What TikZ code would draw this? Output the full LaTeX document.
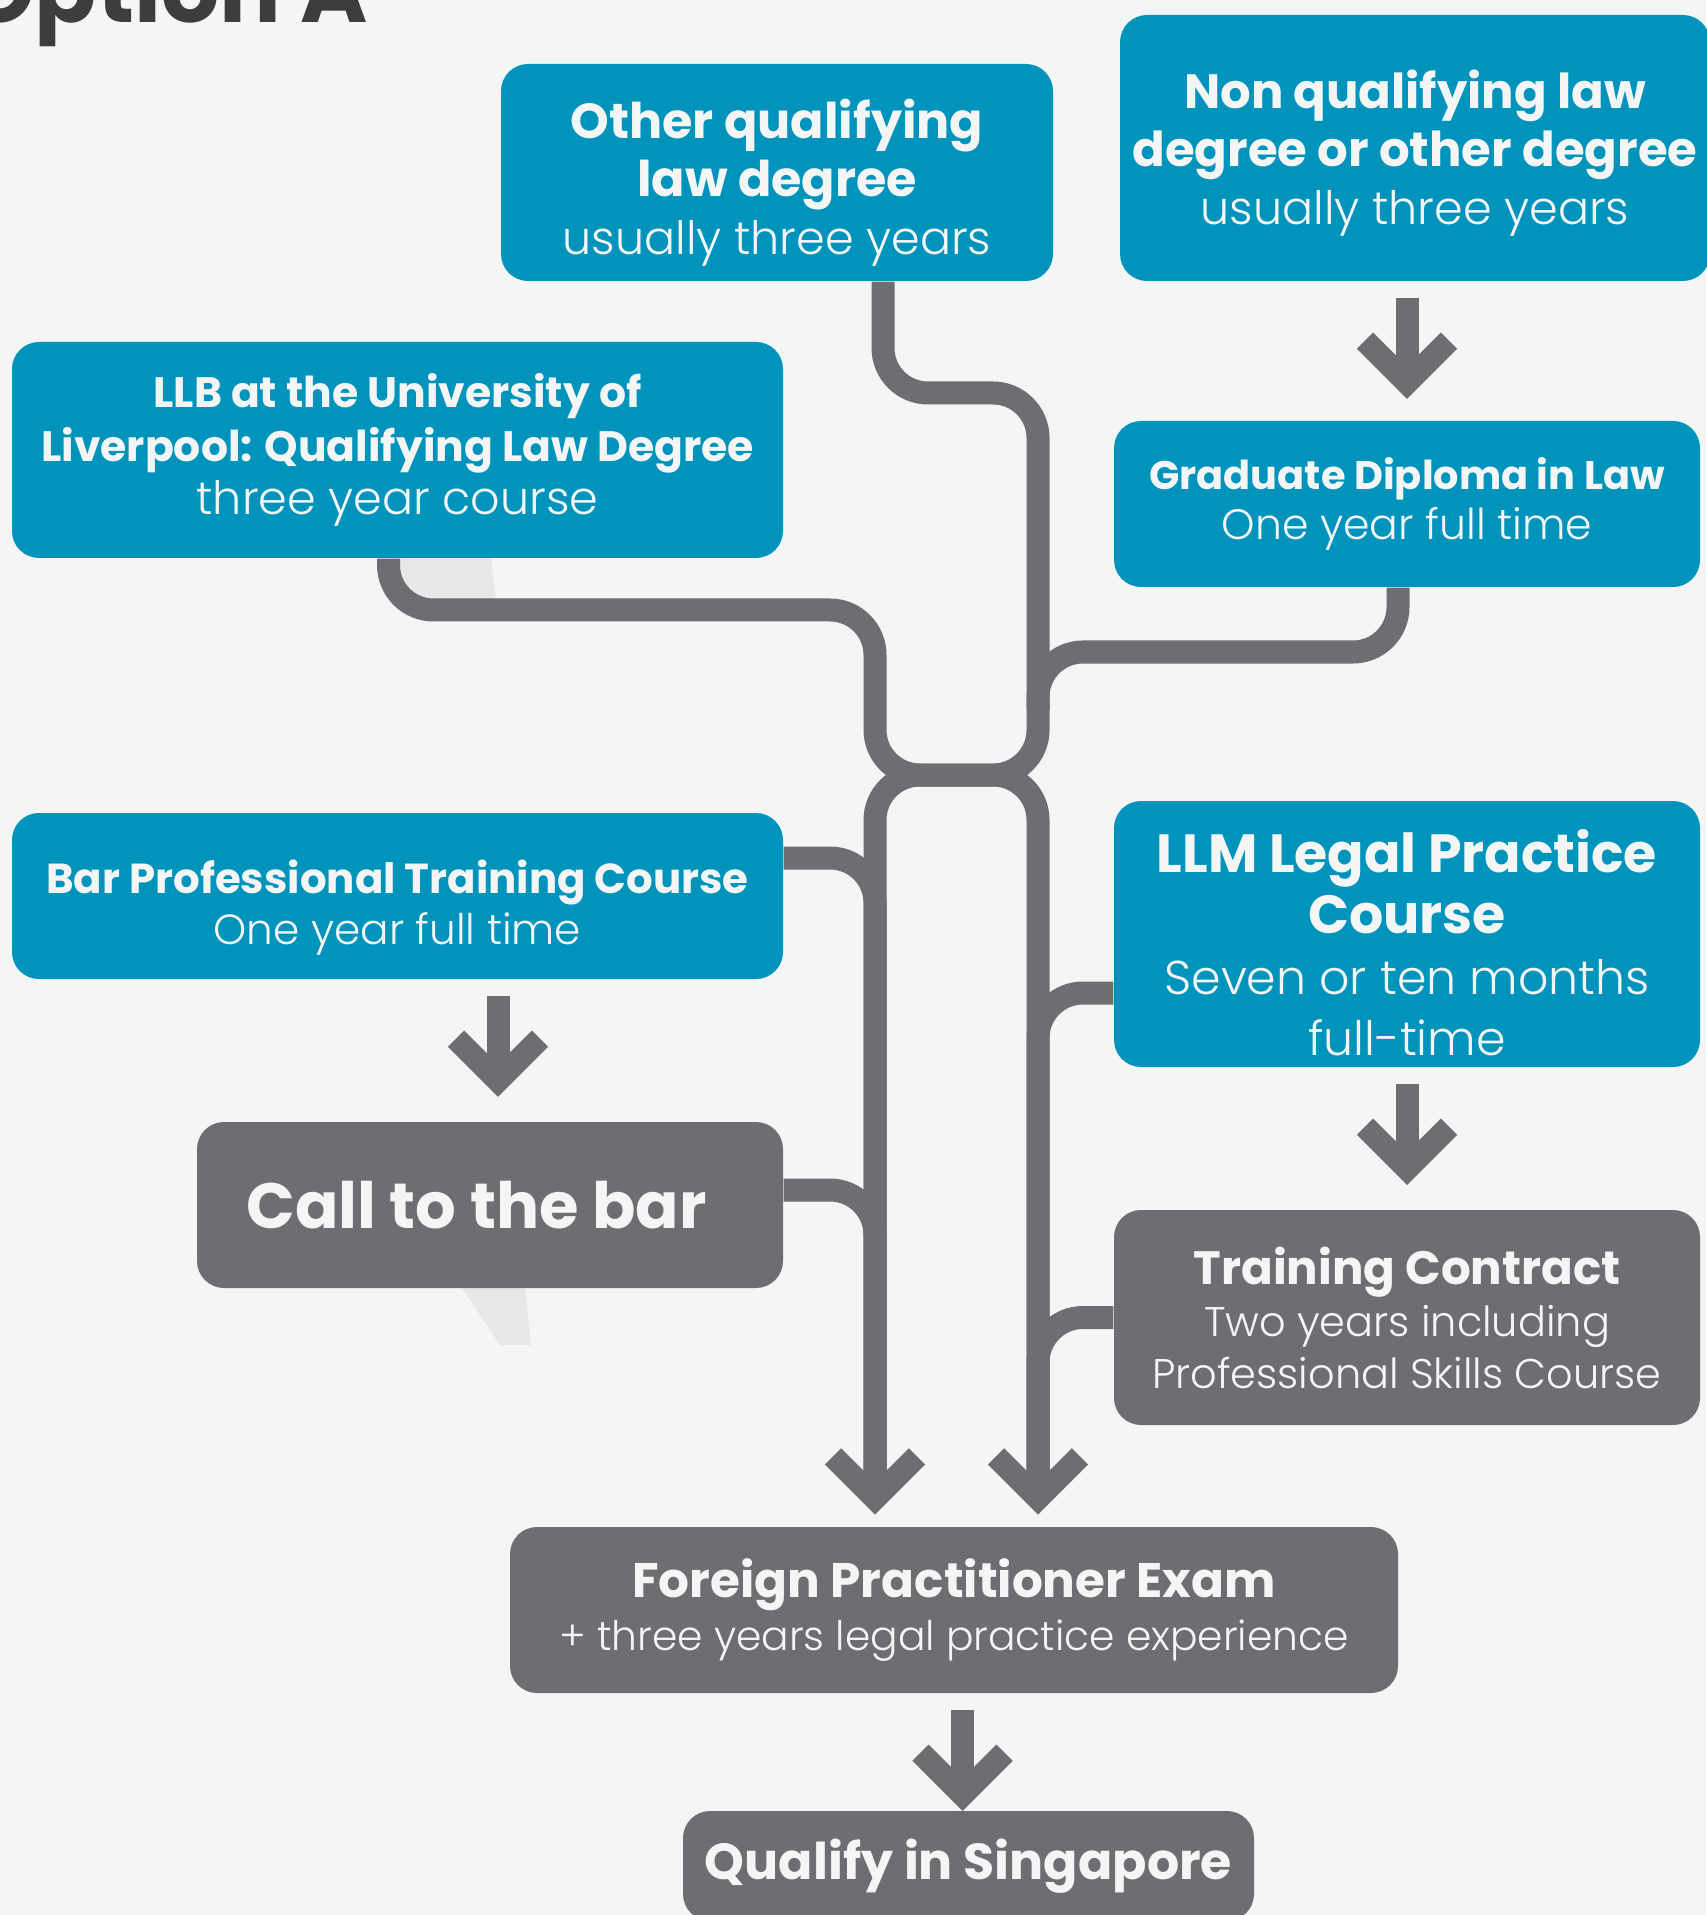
\documentclass[tikz,border=0pt]{standalone}
\usepackage{fontspec}
\setmainfont{Poppins}
\IfFontExistsTF{Poppins Light}{\newfontfamily\lightfont{Poppins Light}}{\newfontfamily\lightfont{Poppins}}
\usetikzlibrary{calc}

\definecolor{lawblue}{HTML}{0093BB}
\definecolor{lawgrey}{HTML}{6D6E72}
\definecolor{paper}{HTML}{F4F6F5}
\definecolor{ghost}{HTML}{E7E8E8}
\definecolor{titlegrey}{HTML}{3D3D3D}

\newcommand{\boldline}[2]{{\normalfont\fontsize{#1}{#1}\selectfont\bfseries #2}}
\newcommand{\chevron}[1]{\draw[pipe, line join=miter] ($(#1)+(-0.42,-0.42)$) -- (#1) -- ($(#1)+(0.42,-0.42)$);}
\newcommand{\chunkydown}[3][0]{%
  \draw[pipe] ($(#2.south -| #3.north)+(#1,0.16)$) -- ($(#2.south -| #3.north)+(#1,1.01)$) coordinate (#2-#3);
  \chevron{#2-#3}}

\begin{document}
\begin{tikzpicture}[x=1cm, y=-1cm,
    box/.style={rectangle, rounded corners=0.27cm, minimum width=5.86cm, inner sep=0pt, align=center, text=paper},
    bluebox/.style={box, fill=lawblue},
    greybox/.style={box, fill=lawgrey},
    pipe/.style={draw=lawgrey, line width=0.23cm},
    pipebend/.style={pipe, rounded corners=0.45cm}]

    \fill[paper] (0,0) rectangle (17.06,19.15);
    \useasboundingbox (0,0) rectangle (17.06,19.15);

    \fill[ghost] (3.95,5.50) -- (4.90,5.50) -- (4.96,6.0) -- (3.95,6.0) -- cycle;
    \fill[ghost] (4.60,12.85) -- (5.25,12.85) -- (5.31,13.45) -- (5.00,13.45) -- cycle;

    \node[anchor=base east, text=titlegrey, font=\fontsize{26}{26}\selectfont\bfseries] (title) at (3.80,0.23) {Option A};

    \node[bluebox, minimum width=5.52cm, minimum height=2.17cm, font=\lightfont\fontsize{13.1}{16.5}\selectfont] (otherq) at (7.77,1.725)
        {\rule{0pt}{0.60cm}\boldline{14}{Other qualifying}\\\boldline{14}{law degree}\\usually three years};
    \node[bluebox, minimum width=5.90cm, minimum height=2.66cm, font=\lightfont\fontsize{13.1}{16.5}\selectfont] (nonq) at (14.15,1.48)
        {\rule{0pt}{0.48cm}\boldline{13.7}{Non qualifying law}\\\boldline{13.7}{degree or other degree}\\usually three years};
    \node[bluebox, minimum width=7.71cm, minimum height=2.16cm, font=\lightfont\fontsize{13.1}{15.2}\selectfont] (llb) at (3.975,4.50)
        {\boldline{12.1}{LLB at the University of}\\\boldline{12.1}{Liverpool: Qualifying Law Degree}\\three year course};
    \node[bluebox, minimum height=1.66cm, font=\lightfont\fontsize{12.1}{14.5}\selectfont] (gdl) at (14.07,5.04)
        {\boldline{11.35}{Graduate Diploma in Law}\\One year full time};
    \node[bluebox, minimum width=7.71cm, minimum height=1.66cm, font=\lightfont\fontsize{12.0}{14.5}\selectfont] (bptc) at (3.975,8.96)
        {\rule{0pt}{0.57cm}\boldline{11.93}{Bar Professional Training Course}\\One year full time};
    \node[bluebox, minimum height=2.66cm, font=\lightfont\fontsize{13.5}{17.4}\selectfont] (llm) at (14.07,9.34)
        {\rule{0pt}{0.60cm}\boldline{15.3}{LLM Legal Practice}\\\boldline{15.3}{Course}\\Seven or ten months\\full-time};
    \node[greybox, minimum height=1.66cm, font=\fontsize{18.2}{18.2}\selectfont\bfseries] (call) at (4.90,12.05)
        {Call to the bar\hspace*{0.27cm}};
    \node[greybox, minimum height=2.15cm, font=\lightfont\fontsize{11.8}{14.8}\selectfont] (tc) at (14.07,13.175)
        {\boldline{13.3}{Training Contract}\\Two years including\\Professional Skills Course};
    \node[greybox, minimum width=8.88cm, minimum height=1.66cm, font=\lightfont\fontsize{11.6}{15.3}\selectfont] (fpe) at (9.54,16.10)
        {\boldline{13.8}{Foreign Practitioner Exam}\\+ three years legal practice experience};
    \node[greybox, minimum width=5.71cm, minimum height=1.10cm, font=\fontsize{14.4}{14.4}\selectfont\bfseries] (qis) at (9.685,18.66)
        {Qualify in Singapore};

    \coordinate (jl) at (8.75,7.75);
    \coordinate (jr) at (10.38,7.75);
    \coordinate (gdlmerge) at (10.38,7.10);
    \coordinate (tipl) at ($(fpe.north -| jl)+(0,-0.28)$);
    \coordinate (tipr) at ($(fpe.north -| jr)+(0,-0.28)$);

    \draw[pipebend] ($(llb.south)+(-0.09,0)$) |- (8.75,6.10) |- (jr) |- (8.83,3.93) -- ($(otherq.south)+(1.06,0)$);
    \draw[pipebend] (tipl) -- (jl) -- (jr) -- (tipr);
    \draw[pipebend] ($(gdl.south)+(-0.09,0)$) |- (10.38,6.52) -- (gdlmerge);
    \draw[pipebend] ($(bptc.east)+(0,-0.38)$) -| (tipl);
    \draw[pipebend] ($(call.east)+(0,-0.15)$) -| (tipl);
    \draw[pipebend] ($(llm.west)+(0,0.59)$) -| (tipr);
    \draw[pipebend] (tc.west) -| (tipr);
    \chevron{tipl}
    \chevron{tipr}

    \chunkydown{nonq}{gdl}
    \chunkydown[0.08]{bptc}{call}
    \chunkydown{llm}{tc}
    \chunkydown[-0.06]{fpe}{qis}
\end{tikzpicture}
\end{document}
